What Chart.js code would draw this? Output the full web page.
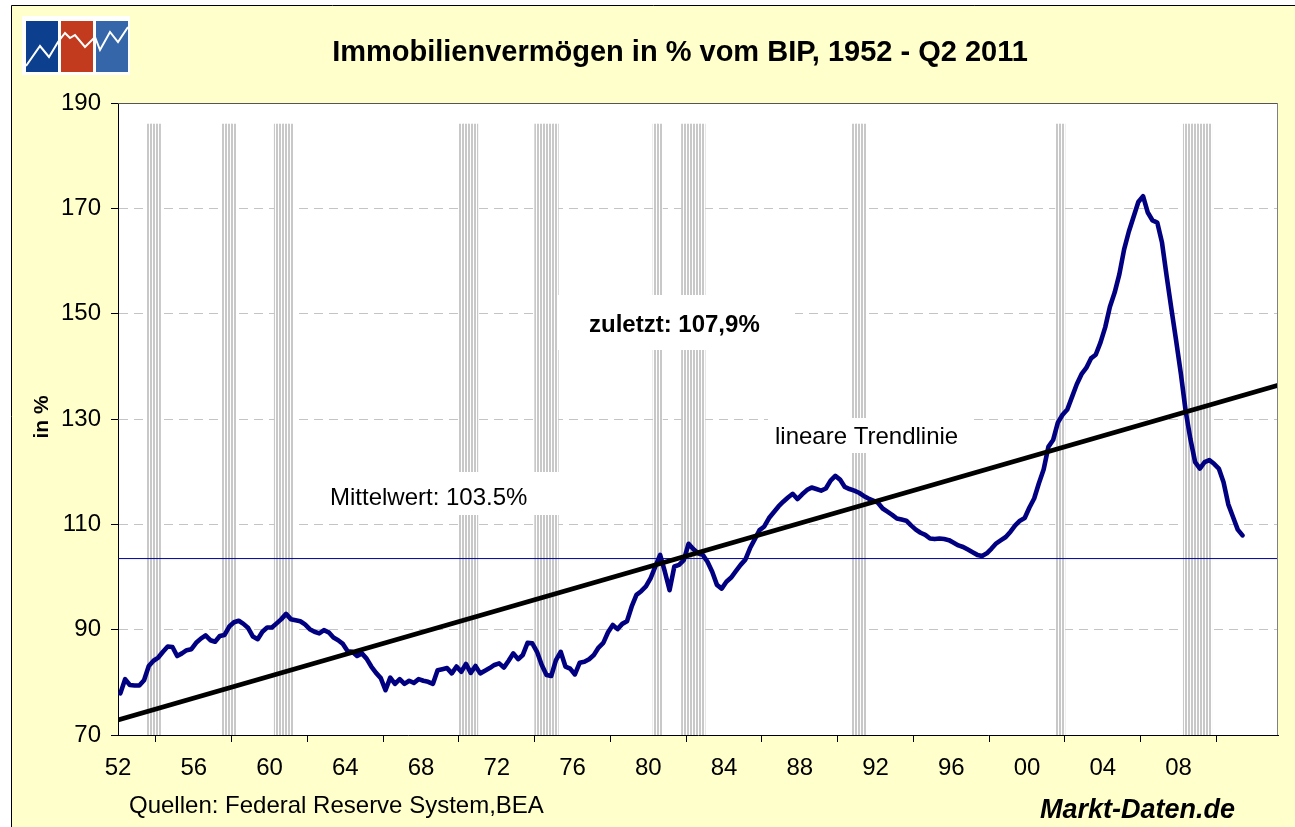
<!DOCTYPE html>
<html><head><meta charset="utf-8">
<script src="https://cdn.jsdelivr.net/npm/chart.js@4"></script>
<style>html,body{margin:0;padding:0;background:#fff;overflow:hidden}</style>
</head><body>
<canvas id="c" width="1295" height="827"></canvas>
<script>
// ---- data (quarterly, starting 1952 Q1, ending 2011 Q2) ----
const values = [
77.9,80.6,79.5,79.4, 79.4,80.4,83.1,84.1, 84.7,85.8,86.8,86.7, 85.0,85.5,86.1,86.3,
87.5,88.3,88.9,88.0, 87.7,88.8,89.0,90.6, 91.4,91.7,91.1,90.3, 88.7,88.2,89.6,90.4,
90.4,91.2,92.0,93.0, 92.0,91.8,91.6,91.0, 90.1,89.6,89.3,89.9, 89.5,88.5,88.0,87.3,
85.9,85.8,85.0,85.5, 84.5,83.0,81.8,80.8, 78.5,80.9,79.7,80.6, 79.7,80.3,79.9,80.6,
80.3,80.1,79.7,82.3, 82.5,82.7,81.7,83.0, 82.0,83.5,81.8,83.1, 81.7,82.2,82.7,83.3,
83.6,82.8,84.1,85.5, 84.4,85.2,87.5,87.4, 85.8,83.3,81.4,81.2, 84.2,85.8,83.0,82.6,
81.5,83.7,83.9,84.4, 85.2,86.6,87.5,89.5, 90.9,90.1,91.1,91.6, 94.4,96.6,97.3,98.2,
99.8,102.0,104.2,101.0, 97.5,102.0,102.3,103.2, 106.3,105.3,104.5,104.2, 102.9,101.0,98.5,97.8,
99.1,99.9,101.1,102.3, 103.3,105.5,107.2,108.9, 109.6,111.2,112.3,113.4, 114.3,115.1,115.8,114.8,
115.7,116.5,117.0,116.7, 116.4,116.8,118.3,119.2, 118.5,117.1,116.7,116.4, 116.0,115.4,114.9,114.5,
114.1,113.0,112.4,111.8, 111.1,110.9,110.7,109.8, 109.0,108.4,108.0,107.3, 107.2,107.3,107.2,107.0,
106.5,106.0,105.7,105.2, 104.7,104.2,104.0,104.5, 105.4,106.4,107.0,107.6, 108.6,109.8,110.7,111.2,
113.2,114.9,117.8,120.4, 124.7,126.0,129.3,130.8, 131.8,134.2,136.6,138.5, 139.7,141.5,142.2,144.5,
147.4,151.3,154.0,157.5, 162.2,165.6,168.4,171.2, 172.3,169.2,167.7,167.3, 163.5,157.0,150.8,144.8,
138.5,131.5,126.2,121.8, 120.6,121.8,122.2,121.5, 120.6,118.0,113.8,111.4, 109.0,107.9
];
const trendStart = 72.85;   // trend value at left edge
const trendEnd = 136.4;     // trend value at right edge
const meanValue = 103.5;
const recessionQuarters = [6,7,8, 22,23,24, 33,34,35,36, 72,73,74,75, 88,89,90,91,92,
  113,114, 119,120,121,122,123, 155,156,157, 198,199, 225,226,227,228,229,230];
const bandTop = 186;
const xMin = -0.5, xMax = 244.5;
const xTickPos = [-0.5,15.5,31.5,47.5,63.5,79.5,95.5,111.5,127.5,143.5,159.5,175.5,191.5,207.5,223.5,239.5];
const xTickLabels = ['52','56','60','64','68','72','76','80','84','88','92','96','00','04','08',''];
const yMin = 70, yMax = 190, yStep = 20;

const FONT = "'Liberation Sans', Arial, sans-serif";
const canvas = document.getElementById('c');
const ctx = canvas.getContext('2d');

// stripe pattern for recession bands
const pc = document.createElement('canvas');
pc.width = 3; pc.height = 4;
const pctx = pc.getContext('2d');
pctx.fillStyle = '#ffffff'; pctx.fillRect(0,0,3,4);
pctx.fillStyle = '#c8c8c8'; pctx.fillRect(0,0,2,4);
const stripe = ctx.createPattern(pc, 'repeat');

const decor = {
  id: 'decor',
  beforeDraw(chart) {
    const c = chart.ctx, a = chart.chartArea;
    c.save();
    c.fillStyle = '#ffffff'; c.fillRect(0,0,chart.width,chart.height);
    c.fillStyle = '#FFFFCC'; c.fillRect(11,5,chart.width,chart.height);
    c.strokeStyle = '#000'; c.lineWidth = 1;
    c.beginPath(); c.moveTo(11.5, chart.height); c.lineTo(11.5,5.5); c.lineTo(chart.width,5.5); c.stroke();
    // logo
    c.fillStyle = '#ffffff'; c.fillRect(22,16,108,59);
    c.fillStyle = '#0d3f8f'; c.fillRect(26,21,32,51);
    c.fillStyle = '#c23b1e'; c.fillRect(61,21,32,51);
    c.fillStyle = '#3566a9'; c.fillRect(96,21,32,51);
    c.strokeStyle = '#ffffff'; c.lineWidth = 2; c.lineJoin = 'miter';
    c.beginPath();
    const zz = [[26,66],[40,46],[49,57],[58,42],[65,33],[70,38],[75,35],[85,47],[95,37],[100,50],[110,32],[118,42],[128,27]];
    zz.forEach((p,i)=> i? c.lineTo(p[0],p[1]) : c.moveTo(p[0],p[1]));
    c.stroke();
    // plot area
    c.fillStyle = '#ffffff'; c.fillRect(a.left, a.top, a.right-a.left, a.bottom-a.top);
    c.restore();
  },
  afterDatasetsDraw(chart) {
    const c = chart.ctx;
    c.save();
    c.fillStyle = '#ffffff';
    c.fillRect(322,472,244,43);
    c.fillRect(557,295,238,55);
    c.fillRect(768,418,202,35);
    c.fillStyle = '#000';
    c.textBaseline = 'alphabetic';
    c.font = '24px ' + FONT;
    c.fillText('Mittelwert: 103.5%', 330, 505);
    c.fillText('lineare Trendlinie', 775, 444);
    c.font = 'bold 24px ' + FONT;
    c.fillText('zuletzt: 107,9%', 589, 332);
    c.restore();
  },
  afterDraw(chart) {
    const c = chart.ctx, a = chart.chartArea;
    c.save();
    c.lineWidth = 1;
    c.strokeStyle = '#555';
    c.beginPath(); c.moveTo(a.left, a.top+0.5); c.lineTo(a.right, a.top+0.5); c.stroke();
    c.strokeStyle = '#808080';
    c.beginPath(); c.moveTo(a.right-0.5, a.top); c.lineTo(a.right-0.5, a.bottom); c.stroke();
    c.fillStyle = '#000';
    c.textAlign = 'center';
    c.font = 'bold 29px ' + FONT;
    c.fillText('Immobilienvermögen in % vom BIP, 1952 - Q2 2011', 680, 61);
    c.textAlign = 'left';
    c.font = '24px ' + FONT;
    c.fillText('Quellen: Federal Reserve System,BEA', 129, 813);
    c.font = 'italic bold 27px ' + FONT;
    c.fillText('Markt-Daten.de', 1040, 818);
    c.translate(42, 417); c.rotate(-Math.PI/2);
    c.textAlign = 'center'; c.textBaseline = 'middle';
    c.font = 'bold 21px ' + FONT;
    c.fillText('in %', 0, 0);
    c.restore();
  }
};

new Chart(ctx, {
  type: 'line',
  data: {
    datasets: [
      { label: 'Immobilienvermögen', data: values.map((v,i)=>({x:i, y:v})),
        borderColor: '#000080', borderWidth: 4.6, pointRadius: 0, tension: 0, order: 2,
        borderJoinStyle: 'round', borderCapStyle: 'round' },
      { label: 'Trend', data: [{x:xMin, y:trendStart},{x:xMax, y:trendEnd}],
        borderColor: '#000000', borderWidth: 4.6, pointRadius: 0, order: 1 },
      { label: 'Mittelwert', data: [{x:xMin, y:meanValue},{x:xMax, y:meanValue}],
        borderColor: '#000099', borderWidth: 1, pointRadius: 0, order: 3 },
      { type: 'bar', label: 'Rezession', data: recessionQuarters.map(i=>({x:i, y:bandTop})),
        backgroundColor: stripe, borderWidth: 0, barPercentage: 1, categoryPercentage: 1, order: 4 }
    ]
  },
  options: {
    responsive: false, animation: false, devicePixelRatio: 1,
    layout: { padding: { left: 0, top: 103, right: 17, bottom: 0 } },
    plugins: { legend: { display: false }, tooltip: { enabled: false }, title: { display: false } },
    scales: {
      x: {
        type: 'linear', min: xMin, max: xMax, offset: false,
        afterBuildTicks: (s) => { s.ticks = xTickPos.map(v => ({ value: v })); },
        afterFit: (s) => { s.height = 92; },
        ticks: { autoSkip: false, maxRotation: 0, minRotation: 0, padding: 12, color: '#000',
          font: { family: FONT, size: 24 },
          callback: (v, idx) => xTickLabels[idx] },
        grid: { drawOnChartArea: false, drawTicks: true, tickLength: 7, tickColor: '#000', color: '#000' },
        border: { display: true, color: '#000', width: 1 }
      },
      y: {
        min: yMin, max: yMax,
        afterFit: (s) => { s.width = 118; },
        ticks: { stepSize: yStep, padding: 10, color: '#000', font: { family: FONT, size: 24 } },
        grid: {
          color: (c) => (c.tick && (c.tick.value === yMin || c.tick.value === yMax)) ? 'rgba(0,0,0,0)' : '#c4c4c4',
          tickColor: '#000', tickLength: 7, lineWidth: 1
        },
        border: { display: true, color: '#000', width: 1, dash: [9,6] }
      }
    }
  },
  plugins: [decor]
});
</script>
</body></html>
